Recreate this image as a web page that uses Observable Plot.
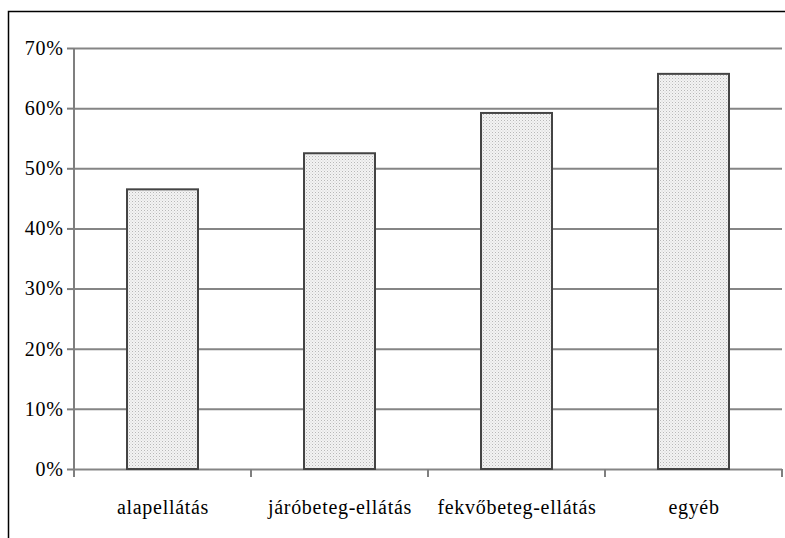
<!DOCTYPE html>
<html>
<head>
<meta charset="utf-8">
<script src="https://cdn.jsdelivr.net/npm/d3@7"></script>
<script src="https://cdn.jsdelivr.net/npm/@observablehq/plot@0.6"></script>
</head>
<body style="margin:0">
<div id="chart"></div>
<script>
const categories = ["alapellátás", "járóbeteg-ellátás", "fekvőbeteg-ellátás", "egyéb"];
const values = [0.465, 0.525, 0.592, 0.657];
const yTicks = [0, 0.1, 0.2, 0.3, 0.4, 0.5, 0.6, 0.7];

const data = categories.map((c, i) => ({category: c, value: values[i]}));

function patternDefs() {
  const g = d3.create("svg:g");
  const defs = g.append("defs");
  const p = defs.append("pattern")
    .attr("id", "dots")
    .attr("patternUnits", "userSpaceOnUse")
    .attr("width", 3).attr("height", 3);
  p.append("rect").attr("width", 3).attr("height", 3).attr("fill", "#f3f3f3");
  p.append("rect").attr("x", 0).attr("y", 0).attr("width", 1).attr("height", 1).attr("fill", "#b8b8b8");
  p.append("rect").attr("x", 1.5).attr("y", 1.5).attr("width", 1).attr("height", 1).attr("fill", "#d2d2d2");
  return g.node();
}

function axisLine(index, scales, values, dimensions) {
  const g = d3.create("svg:g");
  const xl = dimensions.marginLeft;
  g.append("line")
    .attr("x1", xl).attr("x2", xl)
    .attr("y1", scales.y(0.7)).attr("y2", scales.y(0))
    .attr("stroke", "#7f7f7f").attr("stroke-width", 2);
  return g.node();
}

function boundaryTicks(index, scales, values, dimensions) {
  const x = scales.x;
  const step = x(categories[1]) - x(categories[0]);
  const bw = x.bandwidth ? x.bandwidth() : step * 0.4;
  const start = x(categories[0]) - (step - bw) / 2;
  const yb = dimensions.height - dimensions.marginBottom;
  const g = d3.create("svg:g");
  for (let i = 0; i <= categories.length; i++) {
    const xx = Math.round(start + i * step);
    g.append("line")
      .attr("x1", xx).attr("x2", xx)
      .attr("y1", yb).attr("y2", yb + 8)
      .attr("stroke", "#7f7f7f").attr("stroke-width", 2);
  }
  g.append("path")
    .attr("d", `M8.5,${dimensions.height} V11.5 H${dimensions.width}`)
    .attr("fill", "none").attr("stroke", "#000").attr("stroke-width", 1.5);
  return g.node();
}

const plot = Plot.plot({
  width: 785,
  height: 538,
  marginLeft: 74,
  marginRight: 3,
  marginTop: 48,
  marginBottom: 69,
  style: "font-family: 'Liberation Serif'; font-size: 20px; color: #000; background: #fff",
  x: {domain: categories, paddingInner: 0.6, paddingOuter: 0.3, label: null},
  y: {domain: [0, 0.7], label: null},
  marks: [
    patternDefs,
    Plot.ruleY(yTicks, {stroke: "#858585", strokeWidth: 2, strokeOpacity: 1}),
    Plot.barY(data, {x: "category", y: "value", fill: "url(#dots)", stroke: "#444", strokeWidth: 2}),
    axisLine,
    Plot.axisY({ticks: yTicks, tickFormat: d => Math.round(d * 100) + "%", tickSize: 7, tickPadding: 4, stroke: "#7f7f7f", strokeWidth: 2, strokeOpacity: 1}),
    Plot.axisX({tickSize: 0, tickPadding: 30}),
    boundaryTicks
  ]
});

for (const t of plot.querySelectorAll("text")) {
  t.setAttribute("font-family", "Liberation Serif");
  t.setAttribute("font-size", "20");
  t.setAttribute("letter-spacing", "0.7");
  t.setAttribute("fill", "#000");
}
document.getElementById("chart").appendChild(plot);
</script>
</body>
</html>
